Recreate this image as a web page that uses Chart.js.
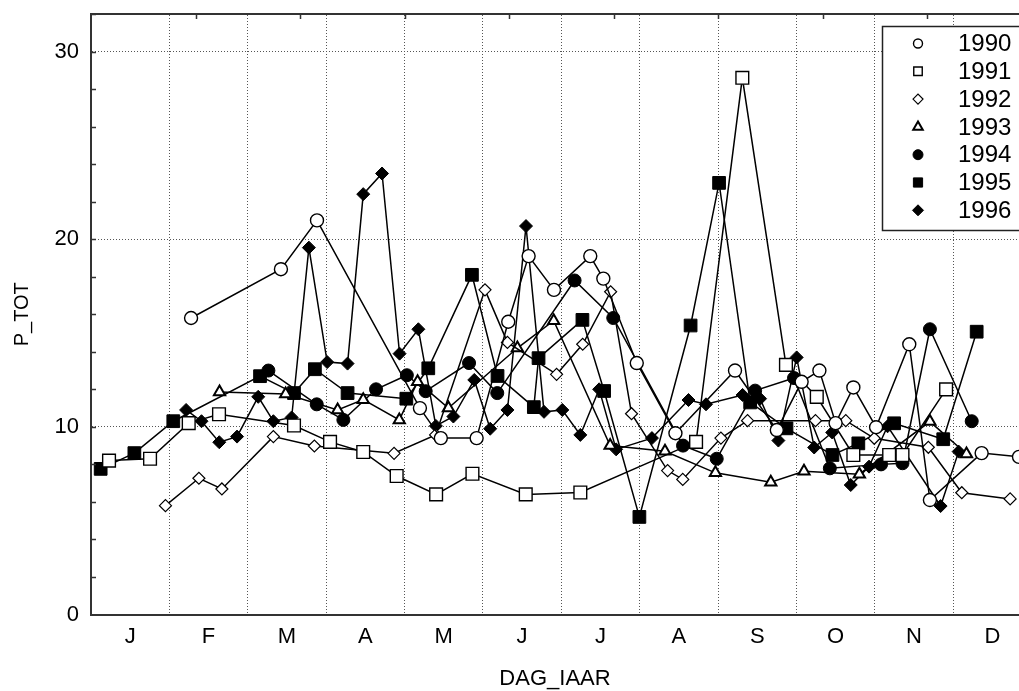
<!DOCTYPE html>
<html>
<head>
<meta charset="utf-8">
<script src="https://cdn.jsdelivr.net/npm/chart.js"></script>
<style>
    body { margin: 0; background: #fff; }
    canvas { display: block; }
</style>
</head>
<body>
<canvas id="pTotChart" width="1019" height="691"></canvas>
<script>
// Axis labels / ticks
const monthLabels = ['J', 'F', 'M', 'A', 'M', 'J', 'J', 'A', 'S', 'O', 'N', 'D'];
const monthStarts = [0, 30, 60, 90, 120, 150, 180, 210, 240, 270, 300, 330];
const monthMids = [15, 45, 75, 105, 135, 165, 195, 225, 255, 285, 315, 345];
const yTicks = [0, 10, 20, 30];
const years = ['1990', '1991', '1992', '1993', '1994', '1995', '1996'];

// Series (day of year, P_TOT)
const days1990 = [38.3, 72.7, 86.5, 125.9, 133.9, 147.6, 159.7, 167.5, 177.2, 191.1, 196.1, 208.9, 223.7, 246.5, 262.5, 272.0, 278.8, 285.0, 291.8, 300.5, 313.2, 321.1, 340.9, 355.2];
const p1990 = [15.8, 18.4, 21.0, 11.0, 9.4, 9.4, 15.6, 19.1, 17.3, 19.1, 17.9, 13.4, 9.66, 13.0, 9.83, 12.4, 13.0, 10.2, 12.1, 9.98, 14.4, 6.1, 8.6, 8.4];

const days1991 = [6.9, 22.6, 37.4, 49.0, 77.7, 91.5, 104.2, 117.0, 132.1, 146.0, 166.4, 187.3, 231.6, 249.3, 266.0, 277.8, 291.8, 305.5, 310.6, 327.3];
const p1991 = [8.2, 8.3, 10.2, 10.67, 10.07, 9.2, 8.66, 7.38, 6.4, 7.5, 6.4, 6.5, 9.2, 28.6, 13.3, 11.6, 8.5, 8.5, 8.5, 12.0];

const days1992 = [28.5, 41.3, 50.1, 69.8, 85.5, 116.0, 131.9, 150.8, 159.4, 178.2, 188.2, 198.9, 206.9, 220.7, 226.5, 241.1, 251.3, 277.3, 288.9, 299.8, 320.5, 333.3, 351.8];
const p1992 = [5.8, 7.26, 6.69, 9.48, 8.98, 8.59, 9.57, 17.3, 14.5, 12.8, 14.4, 17.2, 10.7, 7.67, 7.2, 9.4, 10.33, 10.33, 10.33, 9.39, 8.91, 6.49, 6.16];

const days1993 = [49.2, 74.5, 94.4, 104.2, 118.0, 125.0, 136.8, 163.2, 177.1, 198.7, 219.7, 239.0, 260.2, 272.9, 294.1, 321.1, 335.1];
const p1993 = [11.86, 11.75, 10.9, 11.45, 10.37, 12.4, 11.0, 14.2, 15.66, 9.0, 8.7, 7.55, 7.05, 7.63, 7.48, 10.28, 8.55];

const days1994 = [67.9, 86.4, 96.6, 109.1, 120.9, 128.1, 144.7, 155.5, 185.1, 199.9, 226.6, 239.5, 254.2, 269.1, 282.8, 302.4, 310.6, 321.1, 337.1];
const p1994 = [13.0, 11.2, 10.37, 12.0, 12.75, 11.9, 13.4, 11.8, 17.8, 15.8, 9.0, 8.3, 11.93, 12.6, 7.79, 8.0, 8.06, 15.2, 10.3];

const days1995 = [3.7, 16.6, 31.5, 64.7, 77.7, 85.7, 98.2, 120.7, 129.1, 145.8, 155.6, 169.5, 171.3, 188.1, 196.4, 209.9, 229.5, 240.4, 252.3, 266.2, 283.8, 293.7, 307.4, 326.2, 339.0];
const p1995 = [7.76, 8.6, 10.3, 12.7, 11.8, 13.07, 11.8, 11.5, 13.12, 18.1, 12.71, 11.05, 13.66, 15.7, 11.91, 5.2, 15.4, 23.0, 11.3, 9.92, 8.5, 9.12, 10.19, 9.34, 15.07];

const days1996 = [36.4, 42.3, 49.1, 55.9, 64.0, 69.8, 76.8, 83.4, 90.4, 98.2, 104.2, 111.4, 118.1, 125.3, 132.0, 138.7, 146.7, 152.8, 159.4, 166.5, 173.4, 180.4, 187.3, 194.5, 201.0, 214.7, 228.7, 235.4, 249.4, 256.1, 263.1, 270.1, 276.8, 283.7, 290.8, 297.8, 304.9, 325.2, 332.1];
const p1996 = [10.9, 10.3, 9.18, 9.48, 11.6, 10.3, 10.5, 19.55, 13.45, 13.37, 22.4, 23.5, 13.9, 15.2, 10.05, 10.55, 12.5, 9.9, 10.9, 20.7, 10.8, 10.9, 9.57, 12.0, 8.8, 9.4, 11.43, 11.2, 11.7, 11.5, 9.27, 13.7, 8.9, 9.7, 6.9, 7.88, 10.03, 5.78, 8.68];

const allDays = [days1990, days1991, days1992, days1993, days1994, days1995, days1996];
const allValues = [p1990, p1991, p1992, p1993, p1994, p1995, p1996];

const FONT = "'Liberation Sans', Arial, sans-serif";

// Marker style per year
const markers = [
    { style: 'circle', radius: 6.5, fill: '#fff', width: 1.4, legendRadius: 4.5 },
    { style: 'rect', radius: 9, fill: '#fff', width: 1.4, legendRadius: 6 },
    { style: 'rectRot', radius: 6, fill: '#fff', width: 1.2, legendRadius: 5 },
    { style: 'triangle', radius: 6.5, fill: '#fff', width: 2, legendRadius: 5.5 },
    { style: 'circle', radius: 6.5, fill: '#000', width: 1, legendRadius: 5 },
    { style: 'rect', radius: 9, fill: '#000', width: 1, legendRadius: 6.5 },
    { style: 'rectRot', radius: 6.5, fill: '#000', width: 1, legendRadius: 5.5 }
];

const datasets = years.map((year, i) => ({
    label: year,
    data: allDays[i].map((d, j) => ({ x: d, y: allValues[i][j] })),
    borderColor: '#000',
    borderWidth: 1.5,
    backgroundColor: markers[i].fill,
    pointStyle: markers[i].style,
    pointRadius: markers[i].radius,
    pointBackgroundColor: markers[i].fill,
    pointBorderColor: '#000',
    pointBorderWidth: markers[i].width,
    tension: 0,
    fill: false
}));

// no extra padding from tick labels, the plot frame is fixed
function noPadding(s) {
    s.paddingTop = 0;
    s.paddingBottom = 0;
    s.paddingLeft = 0;
    s.paddingRight = 0;
}

// Small inward tick marks on the left and top axes
const innerTicks = {
    id: 'innerTicks',
    afterDraw(chart) {
        const { ctx, chartArea, scales } = chart;
        ctx.save();
        ctx.strokeStyle = '#333';
        ctx.lineWidth = 1.5;
        ctx.beginPath();
        for (let v = 2; v <= 32; v += 2) {
            const y = Math.round(scales.y.getPixelForValue(v)) + 0.5;
            ctx.moveTo(chartArea.left, y);
            ctx.lineTo(chartArea.left + 5, y);
        }
        for (let d = 40; d <= 320; d += 40) {
            const x = Math.round(scales.xTop.getPixelForValue(d)) + 0.5;
            ctx.moveTo(x, chartArea.top);
            ctx.lineTo(x, chartArea.top + 5);
        }
        ctx.stroke();
        ctx.restore();
    }
};

// Legend box inside the plot, upper right
const legendBox = {
    id: 'legendBox',
    afterDraw(chart) {
        const { ctx, chartArea } = chart;
        const left = chartArea.right - 137;
        const top = chartArea.top + 12;
        const rowH = 27.8;
        ctx.save();
        ctx.fillStyle = '#fff';
        ctx.fillRect(left, top, 150, 204);
        ctx.strokeStyle = '#222';
        ctx.lineWidth = 1.5;
        ctx.strokeRect(left + 0.5, top + 0.5, 150, 204);
        chart.data.datasets.forEach((ds, i) => {
            const y = top + 17.5 + i * rowH;
            ctx.fillStyle = markers[i].fill;
            ctx.strokeStyle = '#000';
            ctx.lineWidth = markers[i].width;
            Chart.helpers.drawPoint(ctx, {
                pointStyle: markers[i].style,
                radius: markers[i].legendRadius,
                borderWidth: markers[i].width,
                rotation: 0
            }, left + 36, y);
            ctx.fillStyle = '#000';
            ctx.font = '24px ' + FONT;
            ctx.textBaseline = 'middle';
            ctx.textAlign = 'left';
            ctx.fillText(ds.label, left + 76, y + 1);
        });
        ctx.restore();
    }
};

const ctx = document.getElementById('pTotChart').getContext('2d');
new Chart(ctx, {
    type: 'line',
    data: { datasets: datasets },
    options: {
        responsive: false,
        animation: false,
        layout: { padding: 0, autoPadding: false },
        plugins: {
            legend: { display: false },
            tooltip: { enabled: false }
        },
        scales: {
            x: {
                type: 'linear',
                position: 'bottom',
                min: 0,
                max: 355.2,
                afterBuildTicks: s => { s.ticks = monthMids.map(v => ({ value: v })); },
                afterFit: s => { s.height = 76.5; noPadding(s); },
                ticks: {
                    callback: (v, i) => monthLabels[i],
                    color: '#000',
                    font: { family: FONT, size: 22 },
                    padding: 9,
                    autoSkip: false,
                    maxRotation: 0
                },
                grid: { display: false, drawTicks: false },
                border: { display: true, color: '#333', width: 2 },
                title: {
                    display: true,
                    text: 'DAG_IAAR',
                    color: '#000',
                    font: { family: FONT, size: 22, lineHeight: 1 },
                    padding: { top: 0, bottom: 1 }
                }
            },
            xTop: {
                type: 'linear',
                position: 'top',
                min: 0,
                max: 355.2,
                afterBuildTicks: s => { s.ticks = monthStarts.map(v => ({ value: v })); },
                afterFit: s => { s.height = 14; noPadding(s); },
                ticks: { display: false },
                grid: { color: '#555', lineWidth: 1, drawTicks: false },
                border: { display: true, color: '#333', width: 2, dash: [1, 2] }
            },
            y: {
                min: 0,
                max: 32,
                afterBuildTicks: s => { s.ticks = yTicks.map(v => ({ value: v })); },
                afterFit: s => { s.width = 91; noPadding(s); },
                ticks: {
                    color: '#000',
                    font: { family: FONT, size: 22 },
                    padding: 12
                },
                grid: { color: '#555', lineWidth: 1, drawTicks: false },
                border: { display: true, color: '#333', width: 2, dash: [1, 2] },
                title: {
                    display: true,
                    text: 'P_TOT',
                    color: '#000',
                    font: { family: FONT, size: 20, lineHeight: 1 },
                    padding: { top: 12, bottom: 0 }
                }
            }
        }
    },
    plugins: [innerTicks, legendBox]
});
</script>
</body>
</html>
